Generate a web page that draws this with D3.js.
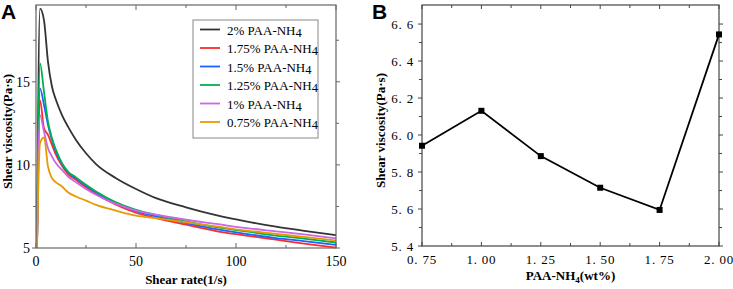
<!DOCTYPE html>
<html>
<head>
<meta charset="utf-8">
<script src="https://cdn.jsdelivr.net/npm/d3@7"></script>
<style>
  body { margin: 0; background: #fff; }
  svg { display: block; }
  svg text { font-family: "Liberation Serif", "Times New Roman", Times, serif; }
  svg text.panel { font-family: "Liberation Sans", Arial, sans-serif; font-weight: bold; }
</style>
</head>
<body>
<svg id="chart" width="733" height="289"></svg>
<script>
// Panel A: shear viscosity vs shear rate
const shearRates = [0.5, 2, 4, 6, 8, 10, 13, 16, 20, 25, 30, 40, 50, 60, 75, 90, 105, 120, 135, 150];
const visc2 = [5, 19.4, 18.7, 16.2, 14.7, 13.9, 13.0, 12.3, 11.5, 10.7, 10.05, 9.2, 8.55, 8.0, 7.45, 6.98, 6.6, 6.28, 6.02, 5.77];
const visc175 = [5, 13.9, 12.2, 11.8, 11.2, 10.6, 9.95, 9.45, 9.1, 8.65, 8.25, 7.6, 7.12, 6.8, 6.4, 6.02, 5.75, 5.5, 5.25, 5.02];
const visc15 = [5, 14.6, 13.6, 12.4, 11.5, 10.8, 10.05, 9.55, 9.2, 8.75, 8.35, 7.7, 7.22, 6.9, 6.5, 6.13, 5.85, 5.6, 5.4, 5.18];
const visc125 = [5, 16.1, 14.4, 12.6, 11.6, 10.9, 10.1, 9.6, 9.25, 8.8, 8.4, 7.75, 7.3, 7.0, 6.6, 6.25, 6.0, 5.75, 5.55, 5.33];
const visc1 = [5, 13.0, 12.0, 11.0, 10.5, 10.1, 9.7, 9.3, 8.95, 8.55, 8.2, 7.65, 7.25, 7.0, 6.7, 6.45, 6.2, 6.0, 5.8, 5.58];
const visc075 = [5, 11.3, 11.65, 9.9, 9.2, 8.95, 8.7, 8.35, 8.1, 7.85, 7.6, 7.25, 6.95, 6.8, 6.55, 6.3, 6.05, 5.85, 5.65, 5.46];

const seriesNames = ["2%", "1.75%", "1.5%", "1.25%", "1%", "0.75%"];
const seriesValues = [visc2, visc175, visc15, visc125, visc1, visc075];
const seriesColors = ["#333333", "#ff2a2a", "#1f62ff", "#00b050", "#cc66e6", "#e69a00"];

const xTicksA = [0, 50, 100, 150];
const yTicksA = [5, 10, 15];

// Panel B: viscosity vs concentration
const concentrations = [0.75, 1.00, 1.25, 1.50, 1.75, 2.00];
const viscB = [5.942, 6.131, 5.886, 5.715, 5.595, 6.544];
const xTicksB = [0.75, 1.00, 1.25, 1.50, 1.75, 2.00];
const yTicksB = [5.4, 5.6, 5.8, 6.0, 6.2, 6.4, 6.6];

const svg = d3.select("#chart");
const frameColor = "#666";

// ---------- Panel A ----------
const a = { left: 36, right: 336, top: 5, bottom: 248 };
const xA = d3.scaleLinear().domain([0, 150]).range([a.left, a.right]);
const yA = d3.scaleLinear().domain([5, 19.62]).range([a.bottom, a.top]);

const gA = svg.append("g");

// ticks: x inward, y outward
d3.range(0, 151, 25).forEach(v => {
    const len = v % 50 === 0 ? 5 : 3;
    gA.append("line").attr("x1", xA(v)).attr("x2", xA(v))
        .attr("y1", a.bottom).attr("y2", a.bottom - len).attr("stroke", frameColor);
    gA.append("line").attr("x1", xA(v)).attr("x2", xA(v))
        .attr("y1", a.top).attr("y2", a.top + len).attr("stroke", frameColor);
});
[5, 7.5, 10, 12.5, 15, 17.5].forEach(v => {
    const len = v % 5 === 0 ? 4 : 3;
    gA.append("line").attr("x1", a.left).attr("x2", a.left - len)
        .attr("y1", yA(v)).attr("y2", yA(v)).attr("stroke", frameColor);
    gA.append("line").attr("x1", a.right).attr("x2", a.right + len)
        .attr("y1", yA(v)).attr("y2", yA(v)).attr("stroke", frameColor);
});

const lineA = d3.line()
    .x((d, i) => xA(shearRates[i]))
    .y(d => yA(d))
    .curve(d3.curveMonotoneX);

gA.selectAll("path.series")
    .data(seriesValues)
    .join("path")
    .attr("class", "series")
    .attr("d", lineA)
    .attr("fill", "none")
    .attr("stroke", (d, i) => seriesColors[i])
    .attr("stroke-width", 1.8)
    .attr("stroke-linejoin", "round");

gA.append("rect")
    .attr("x", a.left).attr("y", a.top)
    .attr("width", a.right - a.left).attr("height", a.bottom - a.top)
    .attr("fill", "none").attr("stroke", frameColor).attr("stroke-width", 1.2);

gA.selectAll("text.xt").data(xTicksA).join("text")
    .attr("class", "xt")
    .attr("x", d => xA(d)).attr("y", a.bottom + 18)
    .attr("text-anchor", "middle").attr("font-size", 14)
    .text(d => d);
gA.selectAll("text.yt").data(yTicksA).join("text")
    .attr("class", "yt")
    .attr("x", a.left - 6).attr("y", d => yA(d) + 5)
    .attr("text-anchor", "end").attr("font-size", 14)
    .text(d => d);

gA.append("text")
    .attr("x", (a.left + a.right) / 2).attr("y", 284)
    .attr("text-anchor", "middle")
    .attr("font-size", 13).attr("font-weight", "bold")
    .text("Shear rate(1/s)");
gA.append("text")
    .attr("transform", `translate(12,${(a.top + a.bottom) / 2 + 5}) rotate(-90)`)
    .attr("text-anchor", "middle")
    .attr("font-size", 13).attr("font-weight", "bold")
    .text("Shear viscosity(Pa·s)");

// legend
const leg = gA.append("g");
leg.append("rect")
    .attr("x", 193).attr("y", 20).attr("width", 125).attr("height", 118)
    .attr("fill", "#fff").attr("stroke", "#888").attr("stroke-width", 1);
seriesNames.forEach((name, i) => {
    const yy = 29.5 + i * 18.5;
    leg.append("line").attr("x1", 200).attr("x2", 220)
        .attr("y1", yy).attr("y2", yy)
        .attr("stroke", seriesColors[i]).attr("stroke-width", 1.8);
    const t = leg.append("text")
        .attr("x", 227).attr("y", yy + 5).attr("font-size", 13);
    t.append("tspan").text(name + " PAA-NH");
    t.append("tspan").attr("dy", 2).attr("font-size", 12.5).text("4");
});

svg.append("text").attr("class", "panel").attr("x", 1).attr("y", 19)
    .attr("font-size", 21).text("A");

// ---------- Panel B ----------
const b = { left: 422, right: 719, top: 5, bottom: 246 };
const xB = d3.scaleLinear().domain([0.75, 2.0]).range([b.left, b.right]);
const yB = d3.scaleLinear().domain([5.4, 6.703]).range([b.bottom, b.top]);

const gB = svg.append("g");

d3.range(0, 11).map(i => 0.75 + i * 0.125).forEach((v, i) => {
    const len = i % 2 === 0 ? 4 : 3;
    gB.append("line").attr("x1", xB(v)).attr("x2", xB(v))
        .attr("y1", b.bottom).attr("y2", b.bottom - len).attr("stroke", "#444");
    gB.append("line").attr("x1", xB(v)).attr("x2", xB(v))
        .attr("y1", b.top).attr("y2", b.top + len).attr("stroke", "#444");
});
d3.range(0, 13).map(i => 5.4 + i * 0.1).forEach((v, i) => {
    const len = i % 2 === 0 ? 4 : 3;
    gB.append("line").attr("x1", b.left).attr("x2", b.left - len)
        .attr("y1", yB(v)).attr("y2", yB(v)).attr("stroke", "#444");
    gB.append("line").attr("x1", b.right).attr("x2", b.right + len)
        .attr("y1", yB(v)).attr("y2", yB(v)).attr("stroke", "#444");
});

gB.append("rect")
    .attr("x", b.left).attr("y", b.top)
    .attr("width", b.right - b.left).attr("height", b.bottom - b.top)
    .attr("fill", "none").attr("stroke", "#444").attr("stroke-width", 1.2);

const lineB = d3.line()
    .x((d, i) => xB(concentrations[i]))
    .y(d => yB(d));
gB.append("path")
    .datum(viscB)
    .attr("d", lineB)
    .attr("fill", "none").attr("stroke", "#000").attr("stroke-width", 1.8);
gB.selectAll("rect.pt").data(viscB).join("rect")
    .attr("class", "pt")
    .attr("x", (d, i) => xB(concentrations[i]) - 3)
    .attr("y", d => yB(d) - 3)
    .attr("width", 6).attr("height", 6).attr("fill", "#000");

gB.selectAll("text.xt").data(xTicksB).join("text")
    .attr("class", "xt")
    .attr("x", d => xB(d)).attr("y", b.bottom + 18)
    .attr("text-anchor", "middle").attr("font-size", 13).attr("letter-spacing", 0.8)
    .text(d => d3.format(".2f")(d).replace(".", ". "));
gB.selectAll("text.yt").data(yTicksB).join("text")
    .attr("class", "yt")
    .attr("x", b.left - 8).attr("y", d => yB(d) + 5)
    .attr("text-anchor", "end").attr("font-size", 13).attr("letter-spacing", 0.8)
    .text(d => d3.format(".1f")(d).replace(".", ". "));

const xlabB = gB.append("text")
    .attr("x", (b.left + b.right) / 2).attr("y", 280)
    .attr("text-anchor", "middle")
    .attr("font-size", 13).attr("font-weight", "bold");
xlabB.append("tspan").text("PAA-NH");
xlabB.append("tspan").attr("dy", 3).attr("font-size", 9).text("4");
xlabB.append("tspan").attr("dy", -3).text("(wt%)");

gB.append("text")
    .attr("transform", `translate(385,${(b.top + b.bottom) / 2 + 5}) rotate(-90)`)
    .attr("text-anchor", "middle")
    .attr("font-size", 13).attr("font-weight", "bold")
    .text("Shear viscosity(Pa·s)");

svg.append("text").attr("class", "panel").attr("x", 372).attr("y", 19)
    .attr("font-size", 21).text("B");
</script>
</body>
</html>
